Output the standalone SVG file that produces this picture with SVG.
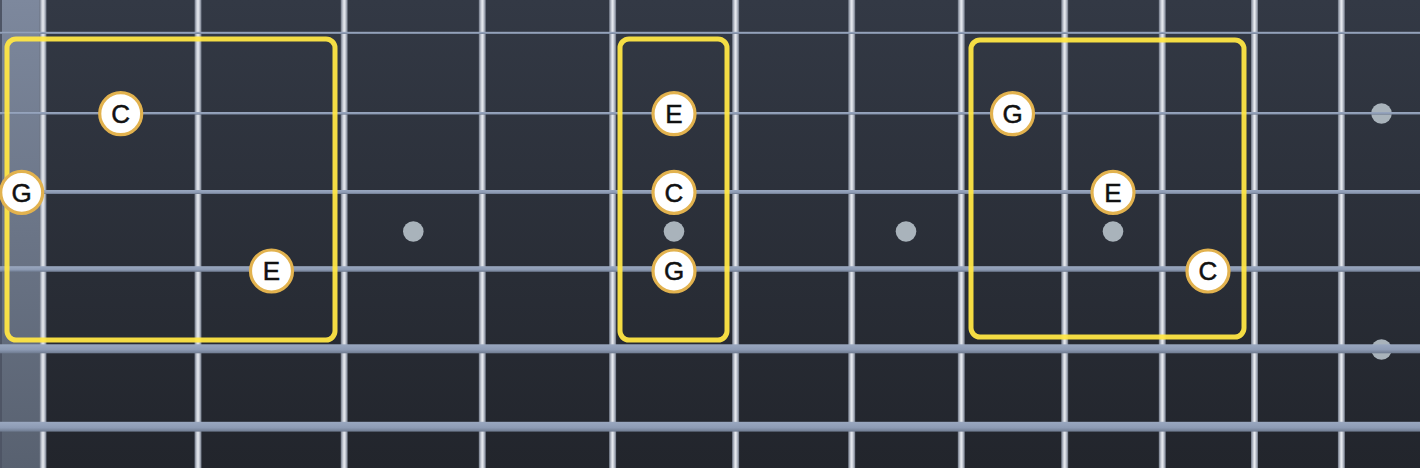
<svg xmlns="http://www.w3.org/2000/svg" width="1420" height="468" viewBox="0 0 1420 468">
  <defs>
    <linearGradient id="bg" x1="0" y1="0" x2="0" y2="1">
      <stop offset="0" stop-color="#333945"/>
      <stop offset="1" stop-color="#22252c"/>
    </linearGradient>
    <linearGradient id="nut" x1="0" y1="0" x2="0" y2="1">
      <stop offset="0" stop-color="#7d889d"/>
      <stop offset="1" stop-color="#586170"/>
    </linearGradient>
    <linearGradient id="fret" x1="0" y1="0" x2="1" y2="0">
      <stop offset="0" stop-color="#6c7483"/>
      <stop offset="0.3" stop-color="#c3c8d2"/>
      <stop offset="0.5" stop-color="#e8ebf0"/>
      <stop offset="0.7" stop-color="#c3c8d2"/>
      <stop offset="1" stop-color="#6c7483"/>
    </linearGradient>
    <linearGradient id="str" x1="0" y1="0" x2="0" y2="1">
      <stop offset="0" stop-color="#9aa8c0"/>
      <stop offset="0.6" stop-color="#8d9bb4"/>
      <stop offset="1" stop-color="#6e7a8f"/>
    </linearGradient>
  </defs>
  <style>
    .fret { fill: url(#fret); }
    .str { fill: url(#str); }
    .inlay { fill: #a9b3bb; }
    .box { fill: none; stroke: #ffe645; stroke-width: 5; opacity: 0.95; }
    .note circle { fill: #ffffff; stroke: #e2b24e; stroke-width: 3.2; }
    .note text { font-family: "Liberation Sans", Arial, sans-serif; font-size: 26px; fill: #111111; stroke: #111111; stroke-width: 0.5; text-anchor: middle; }
  </style>

  <rect x="0" y="0" width="1420" height="468" fill="url(#bg)"/>

  <g id="nut-area">
    <rect x="0" y="0" width="40" height="468" fill="url(#nut)"/>
    <rect x="0" y="0" width="2" height="468" fill="#4e5565"/>
  </g>

  <g id="frets">
    <rect class="fret" x="39.5" y="0" width="7" height="468"/>
    <rect class="fret" x="194.5" y="0" width="7" height="468"/>
    <rect class="fret" x="340.7" y="0" width="7" height="468"/>
    <rect class="fret" x="478.8" y="0" width="7" height="468"/>
    <rect class="fret" x="609.1" y="0" width="7" height="468"/>
    <rect class="fret" x="732.1" y="0" width="7" height="468"/>
    <rect class="fret" x="848.2" y="0" width="7" height="468"/>
    <rect class="fret" x="957.8" y="0" width="7" height="468"/>
    <rect class="fret" x="1061.2" y="0" width="7" height="468"/>
    <rect class="fret" x="1158.8" y="0" width="7" height="468"/>
    <rect class="fret" x="1251" y="0" width="7" height="468"/>
    <rect class="fret" x="1337.9" y="0" width="7" height="468"/>
  </g>

  <g id="inlays">
    <circle class="inlay" cx="413.3" cy="231.5" r="10.3"/>
    <circle class="inlay" cx="674" cy="231.5" r="10.3"/>
    <circle class="inlay" cx="906" cy="231.5" r="10.3"/>
    <circle class="inlay" cx="1113" cy="231.5" r="10.3"/>
    <circle class="inlay" cx="1381.5" cy="113.5" r="10.3"/>
    <circle class="inlay" cx="1381.5" cy="349.5" r="10.3"/>
  </g>

  <g id="strings">
    <rect class="str" x="0" y="31.8" width="1420" height="2.2"/>
    <rect class="str" x="0" y="112" width="1420" height="2.6"/>
    <rect class="str" x="0" y="190" width="1420" height="4"/>
    <rect class="str" x="0" y="266.2" width="1420" height="5.6"/>
    <rect class="str" x="0" y="344.3" width="1420" height="9"/>
    <rect class="str" x="0" y="421.8" width="1420" height="9.8"/>
  </g>

  <g id="boxes">
    <rect id="box-1" class="box" x="7" y="39" width="328" height="301" rx="9"/>
    <rect id="box-2" class="box" x="620" y="39" width="107" height="301" rx="9"/>
    <rect id="box-3" class="box" x="971" y="40" width="273" height="297" rx="9"/>
  </g>

  <g id="note-C1" class="note"><circle cx="120.7" cy="113.7" r="21"/><text x="120.7" y="123">C</text></g>
  <g id="note-G1" class="note"><circle cx="21.7" cy="192.4" r="21"/><text x="21.7" y="201.7">G</text></g>
  <g id="note-E1" class="note"><circle cx="271.5" cy="271" r="21"/><text x="271.5" y="280.3">E</text></g>

  <g id="note-E2" class="note"><circle cx="674" cy="113.7" r="21"/><text x="674" y="123">E</text></g>
  <g id="note-C2" class="note"><circle cx="674" cy="192.4" r="21"/><text x="674" y="201.7">C</text></g>
  <g id="note-G2" class="note"><circle cx="674" cy="271" r="21"/><text x="674" y="280.3">G</text></g>

  <g id="note-G3" class="note"><circle cx="1012.5" cy="113.7" r="21"/><text x="1012.5" y="123">G</text></g>
  <g id="note-E3" class="note"><circle cx="1113" cy="192.4" r="21"/><text x="1113" y="201.7">E</text></g>
  <g id="note-C3" class="note"><circle cx="1208" cy="271" r="21"/><text x="1208" y="280.3">C</text></g>
</svg>
